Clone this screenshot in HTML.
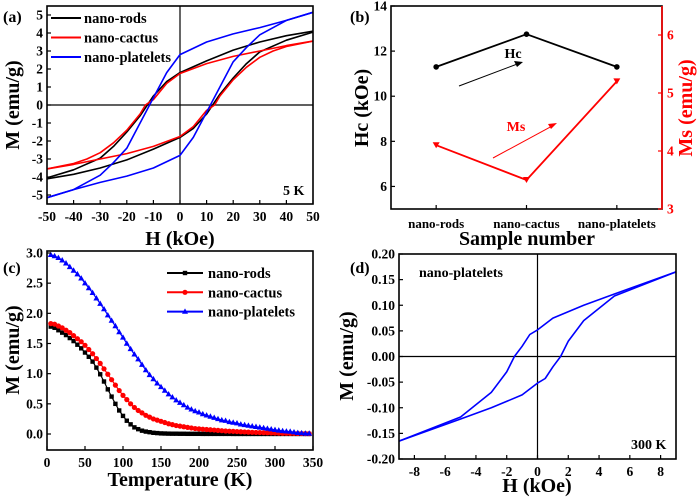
<!DOCTYPE html>
<html><head><meta charset="utf-8"><style>
html,body{margin:0;padding:0;background:#fff}
svg{display:block}
text{font-family:"Liberation Serif",serif;font-weight:bold}
</style></head><body>
<svg id="fig" width="700" height="499" viewBox="0 0 700 499" xmlns="http://www.w3.org/2000/svg"></svg>
<script>
// ---------- Panel (a) data: upper branch (descending field); lower branch = point reflection ----------
const aH = [50,40,30,20,10,0,-5,-10,-15,-20,-25,-30,-40,-50];
const aRods = [4.1,3.85,3.5,3.05,2.45,1.8,1.3,0.5,-0.6,-1.5,-2.3,-2.95,-3.6,-4.05];
const aCactusH = [50,40,30,20,10,0,-5,-10,-13,-15,-20,-25,-30,-35,-40,-50];
const aCactus = [3.55,3.3,3.0,2.7,2.3,1.75,1.2,0.3,0,-0.5,-1.4,-2.1,-2.65,-3.0,-3.25,-3.55];
const aPlateH = [50,40,30,20,10,0,-5,-10,-15,-20,-25,-30,-40,-50];
const aPlate = [5.15,4.7,4.3,3.95,3.5,2.8,1.8,0.4,-1.0,-2.4,-3.2,-3.9,-4.7,-5.15];
const aXTicks = [-50,-40,-30,-20,-10,0,10,20,30,40,50];
const aYTicks = [-5,-4,-3,-2,-1,0,1,2,3,4,5];
// ---------- Panel (b) ----------
const bCats = ["nano-rods","nano-cactus","nano-platelets"];
const bHc = [11.3,12.75,11.3];
const bMs = [4.1,3.5,5.2];
const bLeftTicks = [6,8,10,12,14];
const bRightTicks = [3,4,5,6];
// ---------- Panel (c) ----------
const cT = [];
for(let t=5;t<=345;t+=5) cT.push(t);
const cRods = [1.78,1.76,1.72,1.68,1.64,1.59,1.54,1.48,1.42,1.35,1.28,1.2,1.1,0.99,0.87,0.74,0.62,0.5,0.39,0.3,0.22,0.16,0.11,0.08,0.055,0.04,0.03,0.02,0.015,0.01,0.008,0.006,0.005,0.005,0.004,0.004,0.003,0.003,0.003,0.003,0.002,0.002,0.002,0.002,0.002,0.002,0.002,0.002,0.001,0.001,0.001,0.001,0.001,0.001,0.001,0.001,0.001,0.001,0.001,0.001,0.001,0.001,0.001,0.001,0.001,0.001,0.001,0.001,0.001];
const cCactus = [1.83,1.82,1.79,1.76,1.72,1.68,1.63,1.58,1.53,1.47,1.4,1.33,1.25,1.17,1.08,0.99,0.9,0.81,0.72,0.64,0.57,0.5,0.44,0.39,0.35,0.31,0.28,0.25,0.23,0.21,0.19,0.17,0.155,0.14,0.13,0.12,0.11,0.1,0.09,0.085,0.08,0.075,0.07,0.065,0.06,0.055,0.05,0.047,0.044,0.04,0.037,0.034,0.031,0.028,0.026,0.024,0.022,0.02,0.018,0.016,0.014,0.012,0.011,0.01,0.009,0.008,0.007,0.006,0.005];
const cPlate = [2.97,2.95,2.92,2.88,2.83,2.77,2.71,2.65,2.58,2.5,2.42,2.34,2.25,2.16,2.07,1.97,1.88,1.79,1.69,1.6,1.5,1.41,1.32,1.24,1.15,1.06,0.98,0.91,0.84,0.78,0.72,0.66,0.61,0.56,0.52,0.48,0.44,0.41,0.38,0.36,0.33,0.31,0.29,0.27,0.25,0.23,0.22,0.2,0.19,0.18,0.16,0.15,0.14,0.13,0.12,0.11,0.1,0.09,0.08,0.07,0.06,0.05,0.045,0.04,0.03,0.02,0.015,0.01,0.01];
const cXTicks = [0,50,100,150,200,250,300,350];
const cYTicks = [0,0.5,1,1.5,2,2.5,3];
const cYLabels = ["0.0","0.5","1.0","1.5","2.0","2.5","3.0"];
// ---------- Panel (d) upper branch ----------
const dH = [9,5,3,1,0,-0.5,-1,-1.5,-2,-3,-5,-9];
const dM = [0.165,0.122,0.1,0.075,0.052,0.043,0.02,0,-0.03,-0.07,-0.118,-0.165];
const dXTicks = [-8,-6,-4,-2,0,2,4,6,8];
const dYTicks = [-0.2,-0.15,-0.1,-0.05,0,0.05,0.1,0.15,0.2];

const NS="http://www.w3.org/2000/svg";
const svg=document.getElementById('fig');
function el(tag,attrs,parent,txt){const e=document.createElementNS(NS,tag);for(const k in attrs)e.setAttribute(k,attrs[k]);if(txt!==undefined)e.textContent=txt;(parent||svg).appendChild(e);return e;}
function lin(d0,d1,p0,p1){return v=>p0+(v-d0)*(p1-p0)/(d1-d0);}
function frame(g,x0,y0,x1,y1){el('rect',{x:x0,y:y0,width:x1-x0,height:y1-y0,fill:'none',stroke:'#000','stroke-width':1.6},g);}
function poly(g,xs,ys,sx,sy,color,w,name){
  const p=xs.map((v,i)=>sx(v).toFixed(1)+','+sy(ys[i]).toFixed(1)).join(' ');
  const e=el('polyline',{points:p,fill:'none',stroke:color,'stroke-width':w||1.6,'stroke-linejoin':'round'},g);
  
  
  return e;
}
function xticks(g,ticks,sx,yb,labels,len){ticks.forEach((t,i)=>{const x=sx(t);el('line',{x1:x,x2:x,y1:yb,y2:yb-(len||4),stroke:'#000','stroke-width':1.2},g);const tx=el('text',{x:x,y:yb+17,'text-anchor':'middle','font-size':13.5},g,labels?labels[i]:String(t));});}
function yticks(g,ticks,sy,xl,labels,right,color){ticks.forEach((t,i)=>{const y=sy(t);el('line',{x1:xl,x2:right?xl-4:xl+4,y1:y,y2:y,stroke:color||'#000','stroke-width':1.2},g);const tx=el('text',{x:right?xl+5:xl-4,y:y+4.5,'text-anchor':right?'start':'end','font-size':13.5,fill:color||'#000'},g,labels?labels[i]:String(t));});}
function label(g,x,y,txt,name,opts){const a=Object.assign({x:x,y:y,'text-anchor':'middle','font-size':16},opts||{});const t=el('text',a,g,txt);return t;}
function group(name){const g=el('g',{});return g;}
function loop(g,xs,ys,sx,sy,color,name){poly(g,xs,ys,sx,sy,color,1.6,name+'-upper');poly(g,xs.map(v=>-v),ys.map(v=>-v),sx,sy,color,1.6,name+'-lower');}

// ===== Panel (a) =====
(function(){
  const g=group('panel-a');
  const X0=47,X1=313,Y0=6,Y1=204;
  const sx=lin(-50,50,X0,X1), sy=lin(5,-5,15,195);
  el('line',{x1:sx(0),x2:sx(0),y1:Y0,y2:Y1,stroke:'#000','stroke-width':1.2},g);
  el('line',{x1:X0,x2:X1,y1:sy(0),y2:sy(0),stroke:'#000','stroke-width':1.2},g);
  loop(g,aH,aRods,sx,sy,'#000','rods-loop');
  loop(g,aCactusH,aCactus,sx,sy,'#f00','cactus-loop');
  loop(g,aPlateH,aPlate,sx,sy,'#00f','platelets-loop');
  frame(g,X0,Y0,X1,Y1);
  xticks(g,aXTicks,sx,Y1);
  yticks(g,aYTicks,sy,X0);
  label(g,180,245,'H (kOe)','x-axis-title',{'font-size':20});
  label(g,0,0,'M (emu/g)','y-axis-title',{'font-size':20,transform:'translate(19,105) rotate(-90)'});
  label(g,3,22,'(a)','panel-label',{'text-anchor':'start','font-size':16});
  label(g,283,195,'5 K','temperature-note',{'text-anchor':'start','font-size':14});
  const leg=[['nano-rods','#000'],['nano-cactus','#f00'],['nano-platelets','#00f']];
  leg.forEach((l,i)=>{const y=18+i*19.5;el('line',{x1:51,x2:81,y1:y,y2:y,stroke:l[1],'stroke-width':2},g);label(g,84,y+5,l[0],'legend-entry',{'text-anchor':'start','font-size':14.5});});
})();

// ===== Panel (b) =====
(function(){
  const g=group('panel-b');
  const X0=391,X1=662,Y0=6,Y1=209;
  const sx=lin(0.5,3.5,X0,X1), sy=lin(5,14,Y1,Y0), sr=lin(3,6.5,Y1,Y0);
  const cx=bCats.map((c,i)=>i+1);
  poly(g,cx,bHc,sx,sy,'#000',1.8,'hc-line');
  cx.forEach((c,i)=>{const d=el('circle',{cx:sx(c),cy:sy(bHc[i]),r:2.8,fill:'#000'},g);});
  poly(g,cx,bMs,sx,sr,'#f00',1.8,'ms-line');
  cx.forEach((c,i)=>{const x=sx(c),y=sr(bMs[i]);const d=el('path',{d:`M${x-3.5},${y-3}L${x+3.5},${y-3}L${x},${y+3}Z`,fill:'#f00'},g);});
  frame(g,X0,Y0,X1,Y1);
  el('line',{x1:X1,x2:X1,y1:Y0,y2:Y1,stroke:'#f00','stroke-width':1.6},g);
  yticks(g,bLeftTicks,sy,X0);
  yticks(g,bRightTicks,sr,X1,null,true,'#f00');
  cx.forEach((c,i)=>{el('line',{x1:sx(c),x2:sx(c),y1:Y1,y2:Y1-4,stroke:'#000','stroke-width':1.2},g);label(g,sx(c),Y1+19,bCats[i],'category-label',{'font-size':13});});
  label(g,527,245,'Sample number','x-axis-title',{'font-size':20});
  label(g,0,0,'Hc (kOe)','left-axis-title',{'font-size':20,transform:'translate(368,108) rotate(-90)'});
  label(g,0,0,'Ms (emu/g)','right-axis-title',{'font-size':20,fill:'#f00',transform:'translate(692,108) rotate(-90)'});
  label(g,350,22,'(b)','panel-label',{'text-anchor':'start','font-size':16});
  el('line',{x1:459,y1:86,x2:520,y2:63,stroke:'#000','stroke-width':1},g);
  el('path',{d:'M523,62 L514,61 L517,67 Z',fill:'#000'},g);
  label(g,513,58,'Hc','hc-annotation',{'font-size':14});
  el('line',{x1:493,y1:158,x2:554,y2:125,stroke:'#f00','stroke-width':1},g);
  el('path',{d:'M557,123 L548,124 L551,129 Z',fill:'#f00'},g);
  label(g,516,131,'Ms','ms-annotation',{'font-size':14,fill:'#f00'});
})();

// ===== Panel (c) =====
(function(){
  const g=group('panel-c');
  const X0=47,X1=313,Y0=251,Y1=450;
  const sx=lin(0,350,X0,X1), sy=lin(0,3,434,253);
  const series=[[cRods,'#000','sq','rods'],[cCactus,'#f00','ci','cactus'],[cPlate,'#00f','tr','platelets']];
  function mark(x,y,type,color){let e;if(type==='sq')e=el('rect',{x:x-2.2,y:y-2.2,width:4.4,height:4.4,fill:color},g);else if(type==='ci')e=el('circle',{cx:x,cy:y,r:2.6,fill:color},g);else e=el('path',{d:`M${x},${y-3.2}L${x+3},${y+2.2}L${x-3},${y+2.2}Z`,fill:color},g);return e;}
  series.forEach(s=>{poly(g,cT,s[0],sx,sy,s[1],1.2,s[3]+'-curve');cT.forEach((t,i)=>{const m=mark(sx(t),sy(s[0][i]),s[2],s[1]);});});
  frame(g,X0,Y0,X1,Y1);
  xticks(g,cXTicks,sx,Y1);
  yticks(g,cYTicks,sy,X0,cYLabels);
  label(g,180,486,'Temperature (K)','x-axis-title',{'font-size':20});
  label(g,0,0,'M (emu/g)','y-axis-title',{'font-size':20,transform:'translate(19,350) rotate(-90)'});
  label(g,3,273,'(c)','panel-label',{'text-anchor':'start','font-size':16});
  series.forEach((s,i)=>{const y=273+i*19.3;el('line',{x1:167,x2:203,y1:y,y2:y,stroke:s[1],'stroke-width':2},g);mark(185,y,s[2],s[1]);label(g,208,y+5,['nano-rods','nano-cactus','nano-platelets'][i],'legend-entry',{'text-anchor':'start','font-size':14.5});});
})();

// ===== Panel (d) =====
(function(){
  const g=group('panel-d');
  const X0=399,X1=676,Y0=254,Y1=459;
  const sx=lin(-9,9,X0,X1), sy=lin(0.2,-0.2,Y0,Y1);
  el('line',{x1:sx(0),x2:sx(0),y1:Y0,y2:Y1,stroke:'#000','stroke-width':1.2},g);
  el('line',{x1:X0,x2:X1,y1:sy(0),y2:sy(0),stroke:'#000','stroke-width':1.2},g);
  loop(g,dH,dM,sx,sy,'#00f','platelets-300k-loop');
  frame(g,X0,Y0,X1,Y1);
  xticks(g,dXTicks,sx,Y1);
  yticks(g,dYTicks,sy,X0,dYTicks.map(v=>v.toFixed(2)));
  label(g,537,492,'H (kOe)','x-axis-title',{'font-size':20});
  label(g,0,0,'M (emu/g)','y-axis-title',{'font-size':20,transform:'translate(353,356) rotate(-90)'});
  label(g,350,273,'(d)','panel-label',{'text-anchor':'start','font-size':16});
  label(g,419,277,'nano-platelets','sample-note',{'text-anchor':'start','font-size':14});
  label(g,631,449,'300 K','temperature-note',{'text-anchor':'start','font-size':14});
})();
</script>
</body></html>
